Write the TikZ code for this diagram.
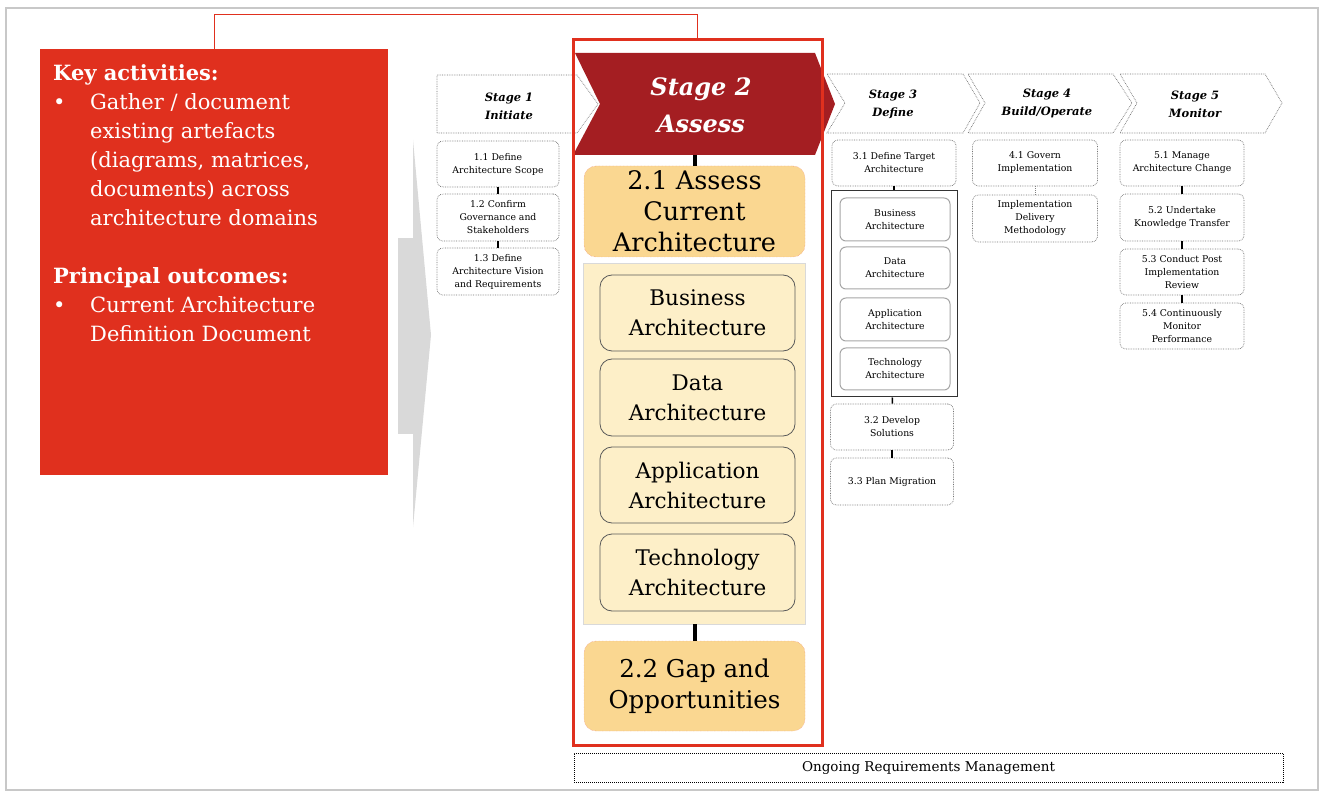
\documentclass[tikz,border=0pt]{standalone}
\usepackage{fontspec}
\setmainfont{DejaVu Serif}
\usepackage{tikz}
\definecolor{pwcred}{RGB}{224,48,30}
\definecolor{stagered}{RGB}{164,30,34}
\definecolor{gapfill}{RGB}{250,215,145}
\definecolor{creamfill}{RGB}{253,239,200}
\definecolor{arrowgray}{RGB}{217,217,217}
\definecolor{framegray}{RGB}{200,200,200}

\begin{document}
\begin{tikzpicture}
[every node/.style={inner sep=0pt},
 task/.style={rectangle, rounded corners=6pt, minimum width=122pt, minimum height=46pt, fill=white, draw=black!55, line width=0.7pt, densely dotted, align=center, font=\fontsize{9.3}{13}\selectfont},
 subtask/.style={rectangle, rounded corners=6pt, minimum width=110pt, minimum height=43pt, fill=white, draw=gray!70, line width=1pt, align=center, font=\fontsize{9.3}{13}\selectfont},
 phase/.style={rectangle, rounded corners=12pt, minimum width=221pt, minimum height=91pt, fill=gapfill, draw=pwcred!60, densely dotted, align=center, font=\fontsize{25.5}{31}\selectfont},
 bigsubtask/.style={rectangle, rounded corners=12pt, minimum width=195pt, minimum height=76pt, fill=creamfill, draw=black!65, line width=0.8pt, align=center, font=\fontsize{21.5}{30}\selectfont},
 stagelabel/.style={align=center, font=\fontsize{11.5}{18}\selectfont\bfseries\itshape},
 chevron/.style={fill=white, draw=black!55, line width=0.7pt, densely dotted},
 link/.style={line width=1.5pt, black}]
\useasboundingbox (0pt,0pt) rectangle (1320pt,-791pt);
\draw [framegray, line width=2pt] (6pt,-8pt) rectangle (1318pt,-790pt);
% big gray arrow behind stage 1
\fill [arrowgray] (398pt,-238pt) rectangle (420pt,-434pt);
\fill [arrowgray] (413pt,-140pt) -- (431pt,-335pt) -- (413pt,-527pt) -- cycle;
% key activities panel
\node (keybox) [rectangle, minimum width=348pt, minimum height=426pt, fill=pwcred] at (214.0pt, -262.0pt) {};
\node (keytext) [anchor=north west, align=left, text=white, font=\fontsize{21}{29}\selectfont] at (53.0pt, -64.0pt) {\textbf{Key activities:}\\
\makebox[37pt][l]{\textbullet}Gather / document\\
\hspace*{37pt}existing artefacts\\
\hspace*{37pt}(diagrams, matrices,\\
\hspace*{37pt}documents) across\\
\hspace*{37pt}architecture domains\\[29pt]
\textbf{Principal outcomes:}\\
\makebox[37pt][l]{\textbullet}Current Architecture\\
\hspace*{37pt}Definition Document};
% stage chevrons
\fill [stagered] (575pt,-53pt) -- (815pt,-53pt) -- (835pt,-104pt) -- (815pt,-155pt) -- (573pt,-155pt) -- (600pt,-104pt) -- cycle;
\draw [chevron] (437pt,-75pt) -- (577pt,-75pt) -- (598pt,-104pt) -- (577pt,-133pt) -- (437pt,-133pt) -- cycle;
\draw [chevron] (827pt,-74pt) -- (963pt,-74pt) -- (980pt,-103pt) -- (963pt,-133pt) -- (827pt,-133pt) -- (845pt,-103pt) -- cycle;
\draw [chevron] (968pt,-74pt) -- (1113pt,-74pt) -- (1132pt,-103pt) -- (1113pt,-133pt) -- (968pt,-133pt) -- (985pt,-103pt) -- cycle;
\draw [chevron] (1120pt,-74pt) -- (1265pt,-74pt) -- (1282pt,-103pt) -- (1265pt,-133pt) -- (1120pt,-133pt) -- (1137pt,-103pt) -- cycle;
\node (s1) [stagelabel] at (509.0pt, -106.0pt) {Stage 1\\Initiate};
\node (s2) [stagelabel, text=white, font=\fontsize{24}{37}\selectfont\bfseries\itshape] at (701.0pt, -105.0pt) {Stage 2\\Assess};
\node (s3) [stagelabel] at (893.0pt, -104.0pt) {Stage 3\\Define};
\node (s4) [stagelabel] at (1047.0pt, -103.0pt) {Stage 4\\Build/Operate};
\node (s5) [stagelabel] at (1195.0pt, -104.0pt) {Stage 5\\Monitor};
\coordinate (s2b) at (694.5pt, -155.0pt);
% focus frame round stage 2
\node (focus) [rectangle, minimum width=249pt, minimum height=705pt, draw=pwcred, line width=3pt] at (697.5pt, -392.5pt) {};
\draw [pwcred, line width=1pt] (keybox.north) -- ++(0pt,34pt) -| (focus.north);
% stage 1 tasks
\node (t11) [task] at (498.0pt, -164.0pt) {1.1 Define\\Architecture Scope};
\node (t12) [task, minimum height=47pt] at (498.0pt, -217.5pt) {1.2 Confirm\\Governance and\\Stakeholders};
\node (t13) [task, minimum height=47pt] at (498.0pt, -271.5pt) {1.3 Define\\Architecture Vision\\and Requirements};
\draw [link] (t11) -- (t12);
\draw [link] (t12) -- (t13);
% stage 2 tasks
\node (t21) [phase] at (694.5pt, -211.5pt) {2.1 Assess\\Current\\Architecture};
\node (c2) [rectangle, minimum width=222pt, minimum height=361pt, fill=creamfill, draw=gray!30] at (694.5pt, -443.5pt) {};
\node (b2) [bigsubtask] at (697.5pt, -313.0pt) {Business\\Architecture};
\node (d2) [bigsubtask, minimum height=77pt] at (697.5pt, -397.5pt) {Data\\Architecture};
\node (a2) [bigsubtask] at (697.5pt, -485.0pt) {Application\\Architecture};
\node (y2) [bigsubtask, minimum height=77pt] at (697.5pt, -572.5pt) {Technology\\Architecture};
\node (t22) [phase, minimum height=90pt, font=\fontsize{24.5}{31}\selectfont] at (694.5pt, -686.0pt) {2.2 Gap and\\Opportunities};
\draw [link, line width=4pt] (s2b) -- (t21);
\draw [link, line width=4pt] (c2) -- (t22);
% stage 3 tasks
\node (t31) [task, minimum width=124pt] at (894.0pt, -163.0pt) {3.1 Define Target\\Architecture};
\node (c3) [rectangle, minimum width=126pt, minimum height=206pt, fill=white, draw=black!80, line width=1pt] at (894.0pt, -294.0pt) {};
\node (b3) [subtask] at (895.0pt, -219.5pt) {Business\\Architecture};
\node (d3) [subtask, minimum height=42pt] at (895.0pt, -268.0pt) {Data\\Architecture};
\node (a3) [subtask] at (895.0pt, -319.5pt) {Application\\Architecture};
\node (y3) [subtask, minimum height=42pt] at (895.0pt, -369.0pt) {Technology\\Architecture};
\node (t32) [task, minimum width=123pt] at (892.0pt, -427.0pt) {3.2 Develop\\Solutions};
\node (t33) [task, minimum width=123pt, minimum height=47pt] at (892.0pt, -481.5pt) {3.3 Plan Migration};
\draw [link] (t31) -- (c3);
\draw [link] (c3) -- (t32);
\draw [link] (t32) -- (t33);
% stage 4 tasks
\node (t41) [task, minimum width=125pt] at (1035.0pt, -163.0pt) {4.1 Govern\\Implementation};
\node (t42) [task, minimum width=125pt, minimum height=47pt] at (1035.0pt, -218.5pt) {Implementation\\Delivery\\Methodology};
\draw [gray, densely dotted, line width=1pt] (t41) -- (t42);
% stage 5 tasks
\node (t51) [task, minimum width=124pt] at (1182.0pt, -163.0pt) {5.1 Manage\\Architecture Change};
\node (t52) [task, minimum width=124pt, minimum height=47pt] at (1182.0pt, -217.5pt) {5.2 Undertake\\Knowledge Transfer};
\node (t53) [task, minimum width=124pt] at (1182.0pt, -272.0pt) {5.3 Conduct Post\\Implementation\\Review};
\node (t54) [task, minimum width=124pt] at (1182.0pt, -326.0pt) {5.4 Continuously\\Monitor\\Performance};
\draw [link] (t51) -- (t52);
\draw [link] (t52) -- (t53);
\draw [link] (t53) -- (t54);
% ongoing bar
\node (ongoing) [rectangle, minimum width=709pt, minimum height=29pt, draw=black, densely dotted, line width=1pt, font=\fontsize{13.5}{15}\selectfont] at (928.5pt, -767.5pt) {Ongoing Requirements Management};
\end{tikzpicture}
\end{document}
